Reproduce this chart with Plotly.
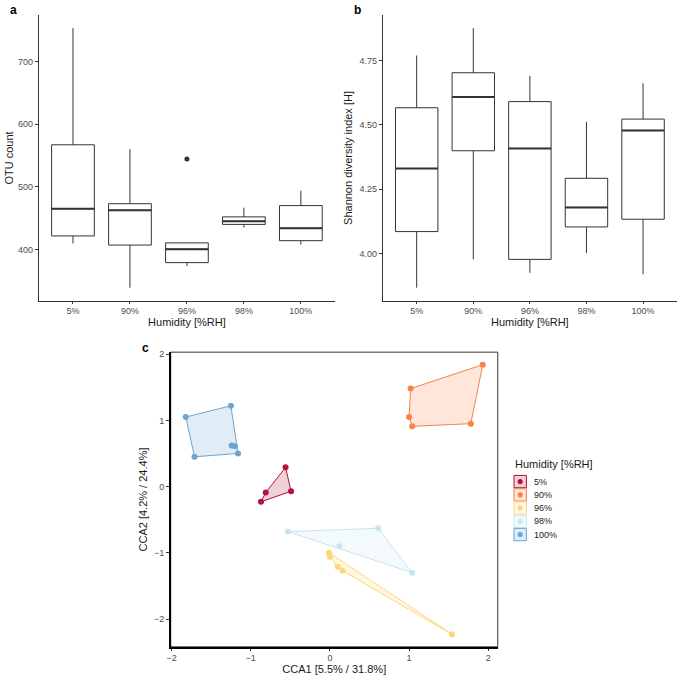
import plotly.graph_objects as go

W, H = 677, 676

# ---------------- data ----------------
humidity = ["5%", "90%", "96%", "98%", "100%"]

# panel a: OTU count box stats
otu_lower = [409.5, 339, 373.5, 435, 408]
otu_q1 = [421.6, 407, 379, 440, 414]
otu_median = [465, 462.4, 400.5, 445, 434]
otu_q3 = [567, 473, 410.5, 452, 470]
otu_upper = [753, 560, 410.5, 466.6, 493.6]
otu_outlier_group = ["96%"]
otu_outlier_value = [544.4]

# panel b: Shannon diversity box stats
sh_lower = [3.867, 3.977, 3.925, 4.002, 3.919]
sh_q1 = [4.085, 4.399, 3.977, 4.103, 4.133]
sh_median = [4.330, 4.608, 4.408, 4.179, 4.478]
sh_q3 = [4.566, 4.702, 4.590, 4.292, 4.522]
sh_upper = [4.769, 4.875, 4.690, 4.511, 4.661]

# panel c: CCA ordination
cca_group = ["5%"] * 4 + ["90%"] * 5 + ["96%"] * 5 + ["98%"] * 4 + ["100%"] * 6
cca1 = [-0.56, -0.81, -0.87, -0.49,
        1.93, 1.02, 1.00, 1.04, 1.78,
        -0.01, 0.00, 0.10, 0.16, 1.54,
        -0.53, 0.61, 0.12, 1.04,
        -1.82, -1.25, -1.24, -1.20, -1.16, -1.71]
cca2 = [0.29, -0.09, -0.23, -0.07,
        1.84, 1.48, 1.05, 0.91, 0.95,
        -1.00, -1.06, -1.21, -1.27, -2.23,
        -0.68, -0.63, -0.90, -1.30,
        1.05, 1.22, 0.62, 0.61, 0.50, 0.45]

colors = {"5%": (178, 19, 59), "90%": (249, 129, 74), "96%": (253, 214, 122),
          "98%": (198, 230, 240), "100%": (107, 165, 212)}

FONT = "Liberation Sans, Arial, sans-serif"
TICKC = "#4D4D4D"


def px_x(p):
    return p / W


def px_y(p):
    return 1 - p / H


def hull(pts):
    pts = sorted(set(pts))
    if len(pts) <= 2:
        return pts

    def cross(o, a, b):
        return (a[0] - o[0]) * (b[1] - o[1]) - (a[1] - o[1]) * (b[0] - o[0])
    lower, upper = [], []
    for p in pts:
        while len(lower) >= 2 and cross(lower[-2], lower[-1], p) <= 0:
            lower.pop()
        lower.append(p)
    for p in reversed(pts):
        while len(upper) >= 2 and cross(upper[-2], upper[-1], p) <= 0:
            upper.pop()
        upper.append(p)
    return lower[:-1] + upper[:-1]


fig = go.Figure()

BOXW = 0.75
# ---------------- panel a & b boxes ----------------
for (xa, ya, lo, q1, md, q3, up) in [
    ("x", "y", otu_lower, otu_q1, otu_median, otu_q3, otu_upper),
    ("x2", "y2", sh_lower, sh_q1, sh_median, sh_q3, sh_upper),
]:
    for i, g in enumerate(humidity):
        fig.add_trace(go.Box(
            x=[i], q1=[q1[i]], median=[md[i]], q3=[q3[i]],
            lowerfence=[lo[i]], upperfence=[up[i]],
            width=BOXW, whiskerwidth=0, fillcolor="white",
            line=dict(color="#333333", width=1), boxpoints=False,
            showlegend=False, hoverinfo="skip", xaxis=xa, yaxis=ya))
        fig.add_trace(go.Scatter(
            x=[i - BOXW / 2, i + BOXW / 2], y=[md[i], md[i]], mode="lines",
            line=dict(color="#333333", width=2), showlegend=False,
            hoverinfo="skip", xaxis=xa, yaxis=ya))

fig.add_trace(go.Scatter(
    x=[humidity.index(g) for g in otu_outlier_group], y=otu_outlier_value,
    mode="markers", marker=dict(color="#333333", size=5),
    showlegend=False, xaxis="x", yaxis="y"))

# ---------------- panel c ----------------
for g in humidity:
    pts = [(a, b) for a, b, gg in zip(cca1, cca2, cca_group) if gg == g]
    hp = hull(pts)
    hx = [p[0] for p in hp] + [hp[0][0]]
    hy = [p[1] for p in hp] + [hp[0][1]]
    r, gg_, b = colors[g]
    fig.add_trace(go.Scatter(
        x=hx, y=hy, mode="lines", fill="toself",
        fillcolor=f"rgba({r},{gg_},{b},0.2)",
        line=dict(color=f"rgb({r},{gg_},{b})", width=1),
        showlegend=False, hoverinfo="skip", xaxis="x3", yaxis="y3"))
    fig.add_trace(go.Scatter(
        x=[p[0] for p in pts], y=[p[1] for p in pts], mode="markers",
        marker=dict(color=f"rgb({r},{gg_},{b})", size=6),
        showlegend=False, name=g, xaxis="x3", yaxis="y3"))

# ---------------- axes ----------------
tickfont = dict(family=FONT, size=9, color=TICKC)
titlefont = dict(family=FONT, size=11, color="#1A1A1A")
common_box_x = dict(range=[-0.6, 4.6], tickvals=list(range(5)), ticktext=humidity,
                    showline=True, linecolor="#333333", linewidth=1, ticks="outside",
                    ticklen=2, tickcolor="#333333", showgrid=False, zeroline=False,
                    tickfont=tickfont, title=dict(text="Humidity [%RH]", font=titlefont, standoff=0))
common_y = dict(showline=True, linecolor="#333333", linewidth=1, ticks="outside",
                ticklen=3, tickcolor="#333333", showgrid=False, zeroline=False,
                tickfont=tickfont)

fig.update_layout(
    width=W, height=H, margin=dict(l=0, r=0, t=0, b=0),
    paper_bgcolor="white", plot_bgcolor="white", showlegend=False,
    font=dict(family=FONT),
    xaxis=dict(domain=[px_x(35), px_x(333)], anchor="y", **common_box_x),
    yaxis=dict(domain=[px_y(299), px_y(12.3)], anchor="x", range=[318.3, 773.7],
               tickvals=[400, 500, 600, 700],
               title=dict(text="OTU count", font=titlefont, standoff=2), **common_y),
    xaxis2=dict(domain=[px_x(381), 1.0], anchor="y2", **common_box_x),
    yaxis2=dict(domain=[px_y(299), px_y(12.3)], anchor="x2", range=[3.8166, 4.9254],
                tickvals=[4.0, 4.25, 4.5, 4.75], ticktext=["4.00", "4.25", "4.50", "4.75"],
                title=dict(text="Shannon diversity index [H]", font=titlefont, standoff=4),
                **common_y),
    xaxis3=dict(domain=[px_x(167.7), px_x(496.7)], anchor="y3", range=[-2.01, 2.12],
                tickvals=[-2, -1, 0, 1, 2], showline=True, linecolor="black", linewidth=1.5,
                ticks="outside", ticklen=2, tickcolor="#333333", showgrid=False,
                zeroline=False, tickfont=tickfont,
                title=dict(text="CCA1 [5.5% / 31.8%]", font=titlefont, standoff=1)),
    yaxis3=dict(domain=[px_y(646.7), px_y(350.7)], anchor="x3", range=[-2.42, 2.03],
                tickvals=[-2, -1, 0, 1, 2], showline=True, linecolor="black", linewidth=1.5,
                ticks="outside", ticklen=3, tickcolor="#333333", showgrid=False,
                zeroline=False, tickfont=tickfont,
                title=dict(text="CCA2 [4.2% / 24.4%]", font=titlefont, standoff=4)),
)

# panel c border (top/right)
fig.add_shape(type="rect", xref="x3 domain", yref="y3 domain", x0=0, x1=1, y0=0, y1=1,
              line=dict(color="#333333", width=1), layer="below")

# panel letters
for txt, xp, yp in [("a", 10, 7), ("b", 356, 7), ("c", 142, 347)]:
    fig.add_annotation(text=f"<b>{txt}</b>", x=px_x(xp), y=px_y(yp), xref="paper", yref="paper",
                       showarrow=False, font=dict(family=FONT, size=12, color="black"),
                       xanchor="center", yanchor="middle")

# manual legend
fig.add_annotation(text="Humidity [%RH]", x=px_x(512), y=px_y(463), xref="paper", yref="paper",
                   showarrow=False, xanchor="left", yanchor="middle",
                   font=dict(family=FONT, size=11, color="#1A1A1A"))
ys = [480.7, 494.0, 507.3, 520.7, 533.9]
for g, yc in zip(humidity, ys):
    r, gg_, b = colors[g]
    fig.add_shape(type="rect", xref="paper", yref="paper",
                  x0=px_x(513), x1=px_x(525.5), y0=px_y(yc + 6.2), y1=px_y(yc - 6.2),
                  fillcolor=f"rgba({r},{gg_},{b},0.2)",
                  line=dict(color=f"rgb({r},{gg_},{b})", width=1))
    fig.add_shape(type="circle", xref="paper", yref="paper",
                  x0=px_x(519.25 - 2.6), x1=px_x(519.25 + 2.6),
                  y0=px_y(yc + 2.6), y1=px_y(yc - 2.6),
                  fillcolor=f"rgb({r},{gg_},{b})", line=dict(width=0))
    fig.add_annotation(text=g, x=px_x(531.5), y=px_y(yc), xref="paper", yref="paper",
                       showarrow=False, xanchor="left", yanchor="middle",
                       font=dict(family=FONT, size=9, color="#1A1A1A"))

fig.write_html("out.html")
